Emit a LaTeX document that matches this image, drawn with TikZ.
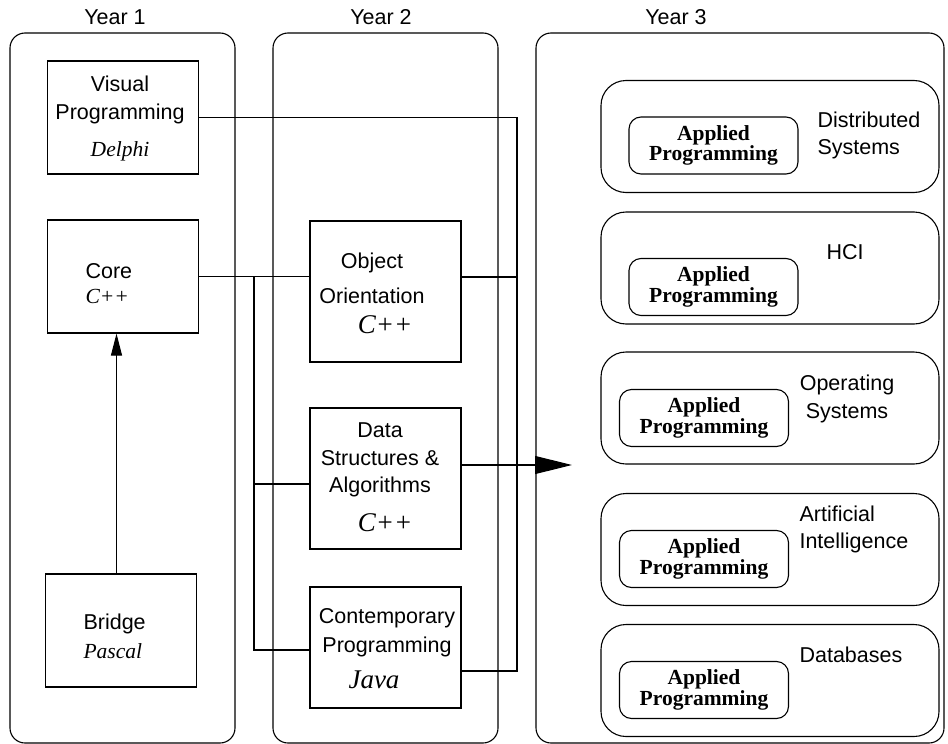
\documentclass[tikz,border=0pt]{standalone}
\usepackage{fontspec}
\setmainfont{Liberation Serif}
\setsansfont{Liberation Sans}
\usepackage{tikz}
\usetikzlibrary{arrows.meta, positioning, calc}

\newcommand{\lang}[1]{{\rmfamily\itshape #1}}
\newcommand{\biglang}[1]{{\rmfamily\itshape\fontsize{27}{28}\selectfont #1}}

\begin{document}
\begin{tikzpicture}[
    x=1pt, y=-1pt, line width=1.1pt,
    panel/.style={draw, rounded corners=15pt, inner sep=0pt, minimum height=710pt},
    course/.style={draw, inner sep=0pt, minimum width=151pt},
    stream/.style={draw, rounded corners=25pt, inner sep=0pt, minimum width=338pt, minimum height=112pt},
    applied/.style={draw, rounded corners=12pt, inner sep=0pt, minimum width=169pt, minimum height=57pt, align=center, font=\rmfamily\bfseries\fontsize{21.5}{18.5}\selectfont},
    txt/.style={inner sep=0pt, anchor=base, font=\sffamily\fontsize{21.5}{28}\selectfont},
    link/.style={-},
    arrow/.style={-{Triangle[length=22pt,width=11pt]}},
    bigarrow/.style={-{Triangle[length=37pt,width=18pt]}},
]
\useasboundingbox (0,0) rectangle (948,744);

% years
\node[panel, minimum width=225pt] (year1) at (122.5,388) {};
\node[panel, minimum width=225pt] (year2) at (385.5,388) {};
\node[panel, minimum width=408pt] (year3) at (740,388) {};
\node[txt] (y1lbl) at (115,24) {Year 1};
\node[txt] (y2lbl) at (381,24) {Year 2};
\node[txt] (y3lbl) at (676,24) {Year 3};

% year 1 (multi-line texts sit on their last baseline)
\node[course, minimum height=113pt] (visual) at (123,117.5) {};
\node[course, minimum height=113pt] (core) at (123,276.5) {};
\node[course, minimum height=113pt] (bridge) at (121,630.5) {};
\node[txt, align=center] (visualtxt) at (120,156) {Visual\\Programming\\[9pt]\lang{Delphi}};
\node[txt, anchor=base west, align=left] (coretxt) at (85,303) {Core\\[-3pt]\lang{C++}};
\node[txt, anchor=base west, align=left] (bridgetxt) at (83,658) {Bridge\\[1pt]\lang{Pascal}};

% year 2
\node[course, minimum height=141pt] (oo) at (385.5,291.5) {};
\node[course, minimum height=141pt] (dsa) at (385.5,478.5) {};
\node[course, minimum height=121pt] (cp) at (385.5,647.5) {};
\node[txt, align=center] (ootxt) at (372,333) {Object\\[7pt]Orientation\\[2pt]\hspace*{26pt}\biglang{C++}};
\node[txt, align=center] (dsatxt) at (380,531) {Data\\Structures \&\\[-1pt]Algorithms\\[11pt]\hspace*{10pt}\biglang{C++}};
\node[txt, align=center] (cptxt) at (387,688) {Contemporary\\[1pt]Programming\\[8pt]\hspace*{-26pt}\biglang{Java}};

% year 3
\node[stream] (dist) at (770,136.5) {};
\node[stream] (hci) at (770,268) {};
\node[stream] (os) at (770,408) {};
\node[stream] (ai) at (770,549.5) {};
\node[stream] (db) at (770,680.5) {};
\node[applied] (ap1) at (713.5,145.5) {Applied\\Programming};
\node[applied] (ap2) at (713.5,287) {Applied\\Programming};
\node[applied] (ap3) at (704,418) {Applied\\Programming};
\node[applied] (ap4) at (704,559) {Applied\\Programming};
\node[applied] (ap5) at (704,690) {Applied\\Programming};
\node[txt, anchor=base west, align=left] (distlbl) at (817,154) {Distributed\\[-1pt]Systems};
\node[txt, anchor=base west] (hcilbl) at (826,259) {HCI};
\node[txt, align=center] (oslbl) at (847,418) {Operating\\Systems};
\node[txt, anchor=base west, align=left] (ailbl) at (799,548) {Artificial\\[-1pt]Intelligence};
\node[txt, anchor=base west] (dblbl) at (799,662) {Databases};

% connectors
\coordinate (up) at (116.5,0);
\coordinate (jr) at (517,671);
\coordinate (jl) at (254,277);
\coordinate (jlm) at (254,484);
\coordinate (jlb) at (254,650);
\coordinate (into) at (572,465);

\draw[arrow] (up |- bridge.north) -- (up |- core.south);
\draw[link] (core.east) -- (oo.west |- core.east);
\draw[link] (jl) -- (jlb) -- (cp.west |- jlb);
\draw[link] (jlm) -- (dsa.west |- jlm);
\draw[link] (visual.east) -| (jr) -- (cp.east |- jr);
\draw[link] (oo.east |- jl) -- (jr |- jl);
\draw[bigarrow] (dsa.east |- into) -- (into);

\end{tikzpicture}
\end{document}
